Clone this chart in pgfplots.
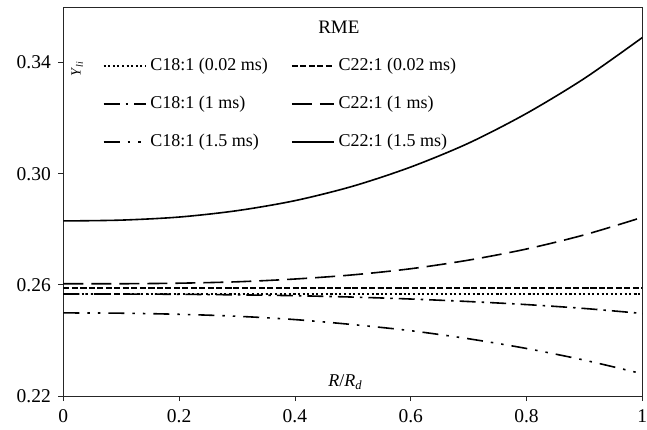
\documentclass[border=0pt]{standalone}
\usepackage{fontspec}
\setmainfont{Liberation Serif}
\usepackage{pgfplots}
\pgfplotsset{compat=1.18}
\begin{document}
\begin{tikzpicture}
\begin{axis}[
  scale only axis, width=579bp, height=389bp,
  xmin=0, xmax=1, ymin=0.22, ymax=0.36,
  xtick={0,0.2,0.4,0.6,0.8,1},
  ytick={0.22,0.26,0.30,0.34},
  yticklabel style={/pgf/number format/fixed,/pgf/number format/fixed zerofill,/pgf/number format/precision=2},
  xticklabel style={/pgf/number format/fixed},
  /pgf/number format/assume math mode=true,
  tick label style={font=\fontsize{19.5bp}{21bp}\selectfont},
  tick align=outside, tick pos=left, major tick length=5bp,
  axis line style={black!85, line width=0.8bp},
  every tick/.style={black!85, line width=0.8bp},
  xticklabel shift=5bp, yticklabel shift=4bp,
  legend columns=2,
  legend cell align=left,
  legend style={at={(0.068,0.874)}, anchor=north west, draw=none, fill=none,
    inner sep=0pt, row sep=19bp,
    font=\fontsize{18bp}{20bp}\selectfont,
    nodes={inner sep=1bp, text height=13bp, text depth=4bp},
    /tikz/every odd column/.append style={column sep=3bp},
    /tikz/every even column/.append style={column sep=22bp}},
  legend image code/.code={\draw[#1] (0bp,0bp) -- (42bp,0bp);},
  every axis plot/.append style={black, line width=1.6bp, smooth},
]
\coordinate (bl) at (rel axis cs:0,0);
\coordinate (tr) at (rel axis cs:1,1);
% C18:1 (0.02 ms)
\addplot[dash pattern=on 2bp off 2.6bp] coordinates {
(0,0.2567) (0.1,0.2567) (0.2,0.2567) (0.3,0.2567) (0.4,0.2567) (0.5,0.2567)
(0.6,0.2567) (0.7,0.2567) (0.8,0.2567) (0.9,0.2567) (1,0.2567)};
\addlegendentry{C18:1 (0.02 ms)}
% C22:1 (0.02 ms)
\addplot[dash pattern=on 6bp off 2.5bp] coordinates {
(0,0.2588) (0.1,0.2588) (0.2,0.2588) (0.3,0.2588) (0.4,0.2588) (0.5,0.2588)
(0.6,0.2588) (0.7,0.2588) (0.8,0.2588) (0.9,0.2588) (1,0.2588)};
\addlegendentry{C22:1 (0.02 ms)}
% C18:1 (1 ms)
\addplot[dash pattern=on 16bp off 6bp on 2.5bp off 6bp] coordinates {
(0,0.2567) (0.1,0.2567) (0.2,0.2566) (0.3,0.2564) (0.4,0.2561) (0.5,0.2556)
(0.6,0.2549) (0.7,0.2540) (0.8,0.2529) (0.9,0.2515) (1,0.2497)};
\addlegendentry{C18:1 (1 ms)}
% C22:1 (1 ms)
\addplot[dash pattern=on 20bp off 8bp] coordinates {
(0,0.2604) (0.1,0.2604) (0.2,0.2606) (0.3,0.2611) (0.4,0.2621) (0.5,0.2636)
(0.6,0.2658) (0.7,0.2689) (0.8,0.2729) (0.9,0.2780) (1,0.2843)};
\addlegendentry{C22:1 (1 ms)}
% C18:1 (1.5 ms)
\addplot[dash pattern=on 16bp off 8bp on 2.5bp off 8bp on 2.5bp off 8bp] coordinates {
(0,0.2499) (0.1,0.2498) (0.2,0.2494) (0.3,0.2487) (0.4,0.2475) (0.5,0.2457)
(0.6,0.2435) (0.7,0.2406) (0.8,0.2371) (0.9,0.2329) (1,0.2280)};
\addlegendentry{C18:1 (1.5 ms)}
% C22:1 (1.5 ms)
\addplot[solid] coordinates {
(0,0.2830) (0.1,0.2833) (0.2,0.2844) (0.3,0.2867) (0.4,0.2903) (0.5,0.2955)
(0.6,0.3024) (0.7,0.3110) (0.8,0.3217) (0.9,0.3343) (1,0.3490)};
\addlegendentry{C22:1 (1.5 ms)}
\node[font=\fontsize{19bp}{21bp}\selectfont] at (rel axis cs:0.476,0.947) {RME};
\node[rotate=90, font=\fontsize{14bp}{16bp}\selectfont] at (rel axis cs:0.024,0.84) {\textit{Y}\textsubscript{\textit{li}}};
\node[font=\fontsize{18bp}{20bp}\selectfont] at (rel axis cs:0.487,0.035) {\textit{R}/\textit{R}\textsubscript{\textit{d}}};
\end{axis}
\pgfresetboundingbox
\path ([shift={(-63.3bp,-34bp)}]bl) rectangle ([shift={(4.7bp,7bp)}]tr);
\end{tikzpicture}
\end{document}
